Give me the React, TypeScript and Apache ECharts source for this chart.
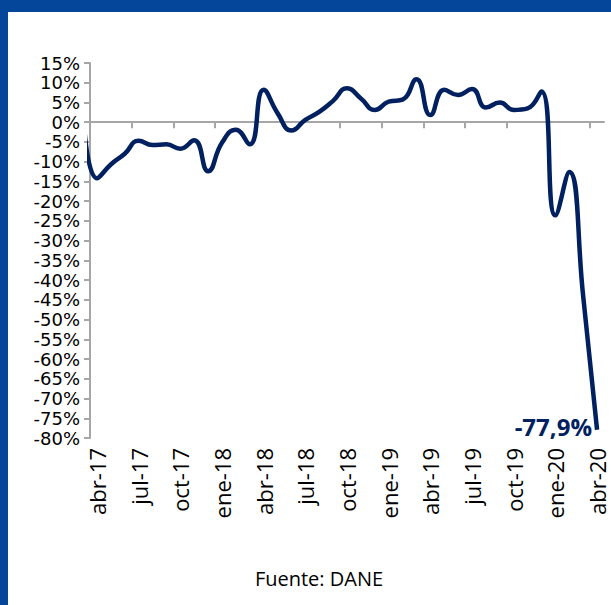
import React, { useEffect, useRef } from "react";
import * as echarts from "echarts";

// Monthly annual variation (%), abr-17 .. abr-20
const months = [
  "abr-17", "may-17", "jun-17", "jul-17", "ago-17", "sep-17", "oct-17", "nov-17", "dic-17",
  "ene-18", "feb-18", "mar-18", "abr-18", "may-18", "jun-18", "jul-18", "ago-18", "sep-18",
  "oct-18", "nov-18", "dic-18", "ene-19", "feb-19", "mar-19", "abr-19", "may-19", "jun-19",
  "jul-19", "ago-19", "sep-19", "oct-19", "nov-19", "dic-19", "ene-20", "feb-20", "mar-20",
  "abr-20",
];
const values = [
  -14.2, -10.7, -8.0, -4.7, -5.8, -5.6, -6.7, -4.6, -12.4,
  -5.2, -1.9, -5.6, 8.2, 2.3, -2.1, 0.6, 2.6, 5.4,
  8.6, 6.0, 3.1, 5.2, 5.7, 10.9, 1.8, 8.2, 6.9,
  8.4, 3.7, 5.0, 3.1, 3.5, 7.8, -23.6, -12.6, -44.0,
  -77.9,
];
// previous month (mar-17), only its clipped segment is visible at the left edge
const priorValue = 3.0;

const yMin = -80;
const yMax = 15;
const yStep = 5;

const source = "Fuente: DANE";
const frameColor = "#03469A";
const lineColor = "#002060";
const axisColor = "#A6A6A6";
const font = "Open Sans";
const yFont = "DejaVu Sans";

export default function App() {
  const ref = useRef<HTMLDivElement>(null);
  useEffect(() => {
    const chart = echarts.init(ref.current!, null, { renderer: "svg" });
    const seriesData: number[][] = [[-1, priorValue], ...values.map((v, i) => [i, v])];
    const last = values.length - 1;
    // category boundaries (one more than categories) for the zero line's tick marks
    const boundaries = Array.from({ length: months.length + 1 }, (_, i) => String(i));
    const gridTop = 63;
    const gridHeight = 375;
    const zeroOffset = (yMax / (yMax - yMin)) * gridHeight;
    chart.setOption({
      animation: false,
      backgroundColor: "#ffffff",
      grid: { left: 90, right: 7, top: gridTop, height: gridHeight, containLabel: false },
      xAxis: [
        {
          type: "category",
          data: months,
          boundaryGap: true,
          position: "bottom",
          axisLine: { show: false, onZero: false },
          axisTick: { show: false },
          axisLabel: {
            interval: 2,
            rotate: 90,
            margin: 10,
            fontFamily: font,
            fontSize: 22,
            color: "#000",
          },
        },
        {
          type: "category",
          data: boundaries,
          boundaryGap: false,
          position: "top",
          offset: -zeroOffset,
          axisLine: { show: true, onZero: false, lineStyle: { color: axisColor, width: 2 } },
          axisTick: {
            show: true,
            inside: true,
            interval: 2,
            length: 6,
            lineStyle: { color: axisColor, width: 2 },
          },
          axisLabel: { show: false },
        },
        { type: "value", min: -0.5, max: 36.5, show: false, axisLine: { onZero: false } },
      ],
      yAxis: {
        type: "value",
        min: yMin,
        max: yMax,
        interval: yStep,
        axisLine: { show: true, onZero: false, lineStyle: { color: axisColor, width: 2 } },
        axisTick: { show: true, length: 6, lineStyle: { color: axisColor, width: 2 } },
        splitLine: { show: false },
        axisLabel: {
          formatter: "{value}%",
          margin: 10,
          fontFamily: yFont,
          fontSize: 18,
          color: "#000",
          showMinLabel: true,
          showMaxLabel: true,
        },
      },
      series: [
        {
          type: "line",
          xAxisIndex: 2,
          data: seriesData,
          smooth: 0.5,
          showSymbol: false,
          clip: true,
          lineStyle: { color: lineColor, width: 4.5 },
        },
        {
          type: "scatter",
          xAxisIndex: 2,
          data: [[last, values[last]]],
          symbolSize: 0.1,
          itemStyle: { color: lineColor, opacity: 1 },
          label: {
            show: true,
            position: "left",
            distance: 5,
            offset: [0, -3],
            formatter: (p: any) => p.value[1].toFixed(1).replace(".", ",") + "%",
            fontFamily: font,
            fontWeight: "bold",
            fontSize: 24,
            color: lineColor,
            opacity: 1,
          },
        },
      ],
      graphic: [
        { type: "rect", left: 0, top: 0, shape: { width: 611, height: 12 }, style: { fill: frameColor } },
        { type: "rect", left: 0, top: 0, shape: { width: 8, height: 605 }, style: { fill: frameColor } },
        {
          type: "text",
          x: 319,
          y: 578,
          style: {
            text: source,
            fontFamily: font,
            fontSize: 20,
            fill: "#000",
            align: "center",
            verticalAlign: "middle",
          },
        },
      ],
    });
    return () => chart.dispose();
  }, []);
  return (
    <div
      ref={ref}
      style={{ position: "fixed", left: 0, top: 0, width: 611, height: 605 }}
    />
  );
}
